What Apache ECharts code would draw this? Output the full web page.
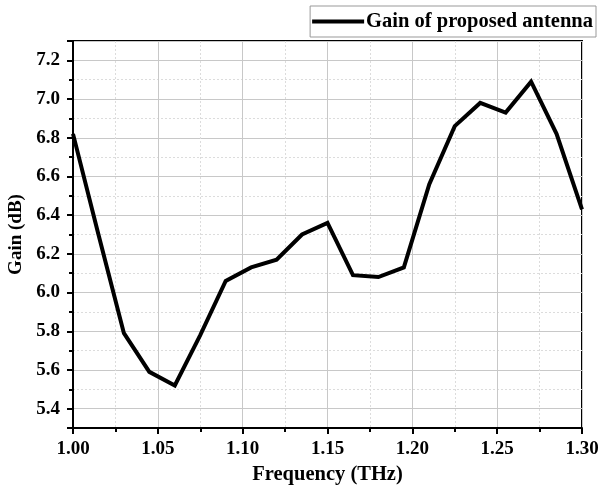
<!DOCTYPE html>
<html>
<head>
<meta charset="utf-8">
<script src="https://cdn.jsdelivr.net/npm/echarts@6/dist/echarts.min.js"></script>
<style>
  html, body { margin: 0; padding: 0; background: #fff; }
  #chart { width: 601px; height: 489px; }
</style>
</head>
<body>
<div id="chart"></div>
<script>
var frequency = [1.000, 1.015, 1.030, 1.045, 1.060, 1.075, 1.090, 1.105, 1.120, 1.135, 1.150,
                 1.165, 1.180, 1.195, 1.210, 1.225, 1.240, 1.255, 1.270, 1.285, 1.300];
var gain = [6.82, 6.30, 5.79, 5.59, 5.52, 5.78, 6.06, 6.13, 6.17, 6.30, 6.36,
            6.09, 6.08, 6.13, 6.56, 6.86, 6.98, 6.93, 7.09, 6.82, 6.43];
var seriesName = 'Gain of proposed antenna';

var serif = '"Liberation Serif", "DejaVu Serif", serif';

var points = frequency.map(function (f, i) { return [f, gain[i]]; });

var myChart = echarts.init(document.getElementById('chart'));

var option = {
    animation: false,
    backgroundColor: '#fff',
    grid: {
        left: 73, right: 19, top: 41, bottom: 61,
        outerBoundsMode: 'none',
        containLabel: false,
        show: true,
        borderColor: '#000',
        borderWidth: 2
    },
    legend: {
        data: [seriesName],
        right: 5,
        top: 6,
        icon: 'rect',
        itemWidth: 52,
        itemHeight: 4,
        itemGap: 4,
        padding: [5, 3, 5, 2],
        borderColor: '#999',
        borderWidth: 1,
        textStyle: { fontFamily: serif, fontWeight: 'bold', fontSize: 20.5, color: '#000', padding: [0, 0, 0, -3] }
    },
    xAxis: {
        type: 'value',
        min: 1.0,
        max: 1.3,
        interval: 0.05,
        name: 'Frequency (THz)',
        nameLocation: 'middle',
        nameGap: 36,
        nameTextStyle: { fontFamily: serif, fontWeight: 'bold', fontSize: 20.5, color: '#000' },
        axisLine: { lineStyle: { color: '#000', width: 2 } },
        axisTick: { inside: false, length: 6, lineStyle: { color: '#000', width: 2 } },
        minorTick: { show: true, splitNumber: 2, length: 4, lineStyle: { color: '#000', width: 2 } },
        axisLabel: {
            fontFamily: serif, fontWeight: 'bold', fontSize: 19, color: '#000', margin: 12,
            formatter: function (v) { return v.toFixed(2); }
        },
        splitLine: { show: true, lineStyle: { color: '#c8c8c8', width: 1 } },
        minorSplitLine: { show: true, lineStyle: { color: '#dcdcdc', width: 1, type: [2, 2] } }
    },
    yAxis: {
        type: 'value',
        min: 5.3,
        max: 7.3,
        splitNumber: 10,
        name: 'Gain (dB)',
        nameLocation: 'middle',
        nameGap: 46,
        nameTextStyle: { fontFamily: serif, fontWeight: 'bold', fontSize: 19, color: '#000' },
        axisLine: { lineStyle: { color: '#000', width: 2 } },
        axisTick: { inside: false, length: 6, lineStyle: { color: '#000', width: 2 } },
        minorTick: { show: true, splitNumber: 2, length: 4, lineStyle: { color: '#000', width: 2 } },
        axisLabel: {
            fontFamily: serif, fontWeight: 'bold', fontSize: 19, color: '#000', margin: 13,
            showMinLabel: false, showMaxLabel: false,
            formatter: function (v) { return v.toFixed(1); }
        },
        splitLine: { show: true, lineStyle: { color: '#c8c8c8', width: 1 } },
        minorSplitLine: { show: true, lineStyle: { color: '#dcdcdc', width: 1, type: [2, 2] } }
    },
    series: [{
        name: seriesName,
        type: 'line',
        data: points,
        symbol: 'none',
        itemStyle: { color: '#000' },
        lineStyle: { color: '#000', width: 4, join: 'miter' }
    }]
};
myChart.setOption(option);
window.onresize = myChart.resize;
</script>
</body>
</html>
